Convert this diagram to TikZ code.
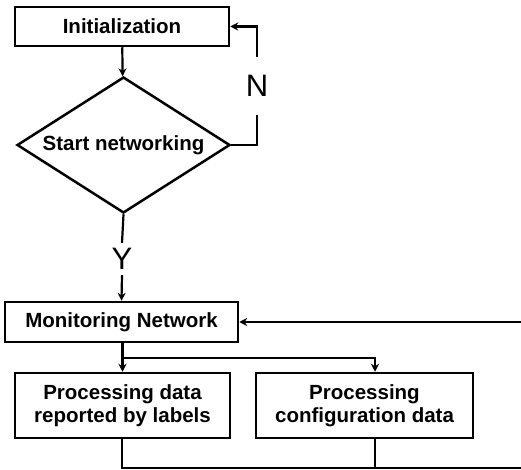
\documentclass[tikz,border=0pt]{standalone}
\usepackage{fontspec}
\setmainfont{Liberation Sans}
\usetikzlibrary{shapes.geometric,arrows.meta,calc}
\tikzset{
  boxnode/.style={draw, line width=2.5pt, inner sep=0pt, align=center,
    font=\fontsize{20.5pt}{23pt}\selectfont\bfseries},
  decnode/.style={diamond, draw, line width=2.5pt, inner sep=0pt, align=center,
    shape aspect=1.566, minimum width=213pt, minimum height=136pt,
    font=\fontsize{20.5pt}{23pt}\selectfont\bfseries},
  yn/.style={inner sep=0pt, minimum height=32pt, font=\fontsize{31pt}{33pt}\selectfont},
  arr/.style={line width=2.2pt, -{Stealth[length=8pt,width=8pt]}},
  ln/.style={line width=2.2pt}
}
\begin{document}
\begin{tikzpicture}[x=1pt,y=-1pt]
\useasboundingbox (0,0) rectangle (521,470);
\clip (0,0) rectangle (521,470);
\fill[white] (0,0) rectangle (521,470);
\node[boxnode, minimum width=214pt, minimum height=39pt] (init) at (122,26.5) {Initialization};
\node[decnode] (dia) at (123.5,145) {Start networking};
\node[yn, minimum height=58pt] (N) at (257,86) {N};
\node[yn] (Y) at (122,259) {Y};
\node[boxnode, minimum width=233pt, minimum height=40pt] (mon) at (121.5,322) {Monitoring Network};
\node[boxnode, minimum width=215pt, minimum height=65pt] (p1) at (122.5,405.5) {Processing data\\reported by labels};
\node[boxnode, minimum width=217pt, minimum height=65pt] (p2) at (364.5,405.5) {Processing\\configuration data};
\coordinate (br) at (122,358);
\coordinate (bot) at (375,468);
\coordinate (rc) at (530,468);
% connectors
\draw[arr] (init) -- (dia);
\draw[ln] (dia.east) -| (N.south);
\draw[arr] (N.north) |- (init.east);
\draw[ln] (dia.south) -- (Y.north);
\draw[arr] (Y.south) -- (mon.north);
\draw[arr] (mon.south -| p1.north) -- (p1.north);
\draw[arr] (br) -| ([xshift=10.5pt]p2.north);
\draw[ln] ([xshift=10.5pt]p2.south) -- (bot);
\draw[arr] (p1.south -| br) |- (rc) |- (mon.east);
\end{tikzpicture}
\end{document}
